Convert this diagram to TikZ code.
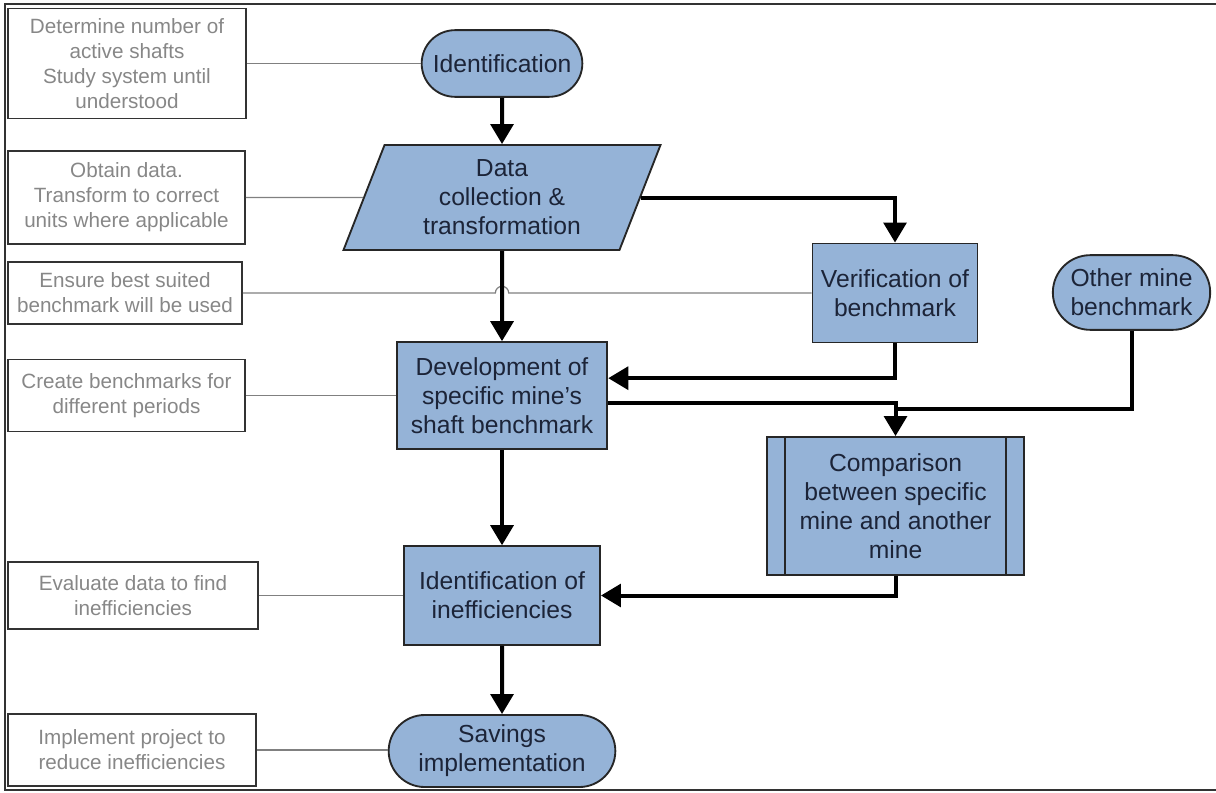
\documentclass[tikz,border=0pt]{standalone}
\usepackage{fontspec}
\setmainfont{Liberation Sans}
\usetikzlibrary{shapes.geometric,shapes.misc,arrows.meta}

\definecolor{boxblue}{RGB}{149,179,215}
\definecolor{boxtext}{RGB}{28,36,56}
\definecolor{notegray}{RGB}{135,135,135}

\tikzset{
  base/.style={draw=black!85, line width=1.4pt, fill=boxblue, text=boxtext, align=center,
    inner sep=2pt, font=\fontsize{18.5}{21.75}\selectfont},
  proc/.style={base, rectangle},
  term/.style={base, rounded rectangle},
  io/.style={base, trapezium, trapezium left angle=63, trapezium right angle=117,
    trapezium stretches body},
  predef/.style={base, rectangle},
  note/.style={draw=black!80, line width=1.2pt, rectangle, align=center, text=notegray,
    inner sep=2pt, font=\fontsize{15.5}{18.75}\selectfont},
  link/.style={draw=black!50, line width=0.9pt},
  flow/.style={line width=3pt, -{Triangle[length=15pt,width=17pt]}},
  plain/.style={line width=3pt}
}

\begin{document}
\begin{tikzpicture}[x=0.75pt,y=-0.75pt]
  \useasboundingbox (0,0) rectangle (1216,792);
  \draw[line width=1.5pt, black!80] (1216,4) -- (5,4) -- (5,790) -- (1216,790);

  % main flow
  \node[term, minimum width=124.5pt, minimum height=50pt] (ident) at (502,63.5) {Identification};
  \node[io, minimum width=237.75pt, minimum height=78.75pt] (data) at (502,197.5) {Data\\collection \&\\transformation};
  \node[proc, minimum width=123.75pt, minimum height=74.25pt] (ver) at (895,293) {Verification of\\benchmark};
  \node[term, minimum width=122pt, minimum height=56pt] (oth) at (1131.5,292.5) {Other mine\\benchmark};
  \node[proc, minimum width=158pt, minimum height=80pt] (dev) at (502,395.5) {Development of\\specific mine's\\shaft benchmark};
  \node[predef, minimum width=193pt, minimum height=103.5pt] (cmp) at (895.5,506) {Comparison\\between specific\\mine and another\\mine};
  \draw[draw=black!85, line width=1.4pt] ([xshift=14.25pt]cmp.north west) -- ([xshift=14.25pt]cmp.south west)
    ([xshift=-14.25pt]cmp.north east) -- ([xshift=-14.25pt]cmp.south east);
  \node[proc, minimum width=147pt, minimum height=74pt] (ineff) at (502,595.5) {Identification of\\inefficiencies};
  \node[term, minimum width=174pt, minimum height=54pt] (save) at (502,751) {Savings\\implementation};

  % notes
  \node[note, minimum width=178.5pt, minimum height=82.5pt] (n1) at (127,63.5) {Determine number of\\active shafts\\Study system until\\understood};
  \node[note, minimum width=177.75pt, minimum height=69.75pt] (n2) at (126.5,197.5) {Obtain data.\\Transform to correct\\units where applicable};
  \node[note, minimum width=175.5pt, minimum height=46.5pt] (n3) at (125,293) {Ensure best suited\\benchmark will be used};
  \node[note, minimum width=177.75pt, minimum height=54pt] (n4) at (126.5,395.5) {Create benchmarks for\\different periods};
  \node[note, minimum width=187.5pt, minimum height=50.25pt] (n5) at (133,595.5) {Evaluate data to find\\inefficiencies};
  \node[note, minimum width=186pt, minimum height=54pt] (n6) at (132,750) {Implement project to\\reduce inefficiencies};

  \draw[link] (n1) -- (ident);
  \draw[link] (n2.east) -- (data);
  \draw[link] (n3.east) -- ([xshift=-5pt]n3.east -| data.south) arc[start angle=180, end angle=0, radius=5pt] -- (n3.east -| ver.west);
  \draw[link] (n4) -- (dev);
  \draw[link] (n5) -- (ineff);
  \draw[link] (n6.east) -- (n6.east -| save.west);

  % arrows
  \draw[flow] (ident) -- (data);
  \draw[flow] (data) -- (dev);
  \draw[flow] (dev) -- (ineff);
  \draw[flow] (ineff) -- (save);
  \draw[flow] (data.east) -| (ver.north);
  \draw[flow] (ver.south) |- ([yshift=13pt]dev.east);
  \draw[flow] ([yshift=-5.5pt]dev.east) -| (cmp.north);
  \draw[plain] (oth.south) |- ([yshift=-10pt]dev.east -| cmp.north);
  \draw[flow] (cmp.south) |- (ineff.east);
\end{tikzpicture}
\end{document}
